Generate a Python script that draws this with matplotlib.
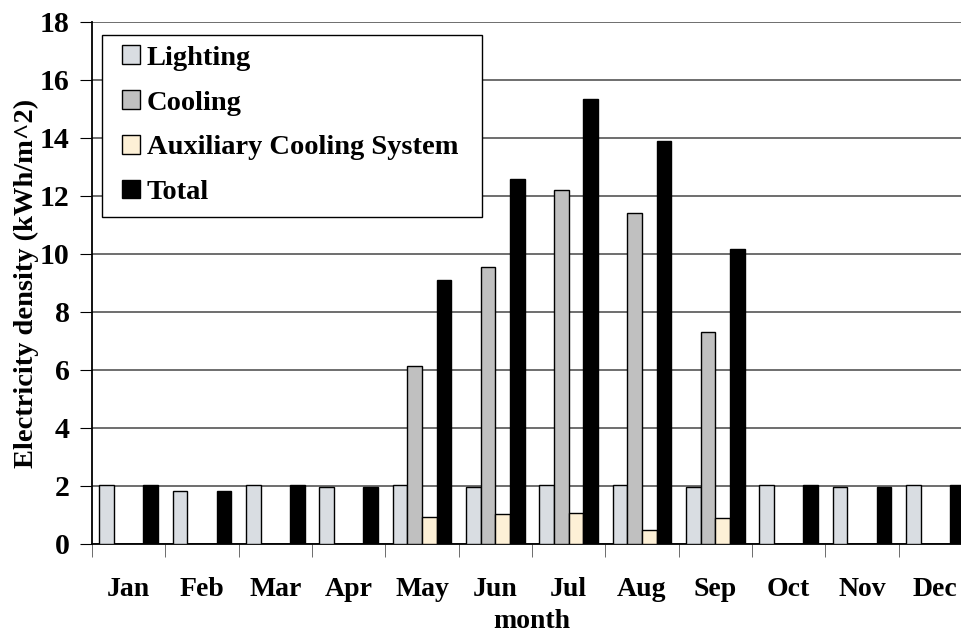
import numpy as np
import matplotlib
matplotlib.use("Agg")
import matplotlib.pyplot as plt
from matplotlib.patches import Rectangle

months = ["Jan", "Feb", "Mar", "Apr", "May", "Jun",
          "Jul", "Aug", "Sep", "Oct", "Nov", "Dec"]
lighting = [2.02, 1.83, 2.02, 1.97, 2.02, 1.97, 2.02, 2.02, 1.97, 2.02, 1.97, 2.02]
cooling = [0, 0, 0, 0, 6.15, 9.55, 12.2, 11.4, 7.3, 0, 0, 0]
auxiliary = [0, 0, 0, 0, 0.93, 1.05, 1.08, 0.47, 0.9, 0, 0, 0]
total = [2.02, 1.83, 2.02, 1.97, 9.1, 12.57, 15.33, 13.9, 10.17, 2.02, 1.97, 2.02]

plt.rcParams["font.family"] = ["Liberation Serif", "DejaVu Serif"]
plt.rcParams["font.weight"] = "bold"

fig = plt.figure(figsize=(9.61, 6.36), dpi=100)
# plot area runs past the right edge of the picture, like the original crop
ax = fig.add_axes([92 / 961, 92 / 636, 880 / 961, 522 / 636])

x = np.arange(len(months))
w = 0.2
ax.bar(x - 1.5 * w, lighting, w, color="#d9dde2", edgecolor="black", linewidth=1, label="Lighting", zorder=3)
ax.bar(x - 0.5 * w, cooling, w, color="#c0c0c0", edgecolor="black", linewidth=1, label="Cooling", zorder=3)
ax.bar(x + 0.5 * w, auxiliary, w, color="#fdf0d6", edgecolor="black", linewidth=1, label="Auxiliary Cooling System", zorder=3)
ax.bar(x + 1.5 * w, total, w, color="black", edgecolor="black", linewidth=1, label="Total", zorder=3)

ax.set_xlim(-0.5, 11.5)
ax.set_ylim(0, 18)
ax.set_yticks(np.arange(0, 19, 2))
ax.yaxis.grid(True, color="#555555", linewidth=1.2, zorder=0)

ax.set_xticks(x)
ax.set_xticklabels(months, fontsize=20, fontweight="bold")
ax.set_xticks(np.arange(-0.5, 12, 1), minor=True)
ax.tick_params(axis="x", which="major", length=0, pad=24)
ax.tick_params(axis="x", which="minor", length=9, color="#555555", direction="out")
ax.tick_params(axis="y", labelsize=21.5, length=9, pad=7, direction="out")
for t in ax.get_yticklabels():
    t.set_fontweight("bold")

for s in ["top", "right"]:
    ax.spines[s].set_visible(False)
ax.spines["left"].set_linewidth(1.3)
ax.spines["bottom"].set_linewidth(1.3)

ax.set_xlabel("month", fontsize=20, fontweight="bold", labelpad=5)
ax.set_ylabel("Electricity density (kWh/m^2)", fontsize=20.5, fontweight="bold", labelpad=1)

# legend box drawn separately so the padding matches the original
ax.add_patch(Rectangle((0.0114, 0.6264), 0.4318, 0.3486, transform=ax.transAxes,
                       facecolor="white", edgecolor="black", linewidth=1, zorder=4))
leg = ax.legend(loc="upper left", bbox_to_anchor=(0.034, 0.955), borderaxespad=0,
                frameon=False, prop={"size": 20.5, "weight": "bold"},
                handlelength=0.63, handleheight=0.63, handletextpad=0.25,
                labelspacing=0.68, borderpad=0)
leg.set_zorder(5)

fig.savefig("out.png", dpi=100)
